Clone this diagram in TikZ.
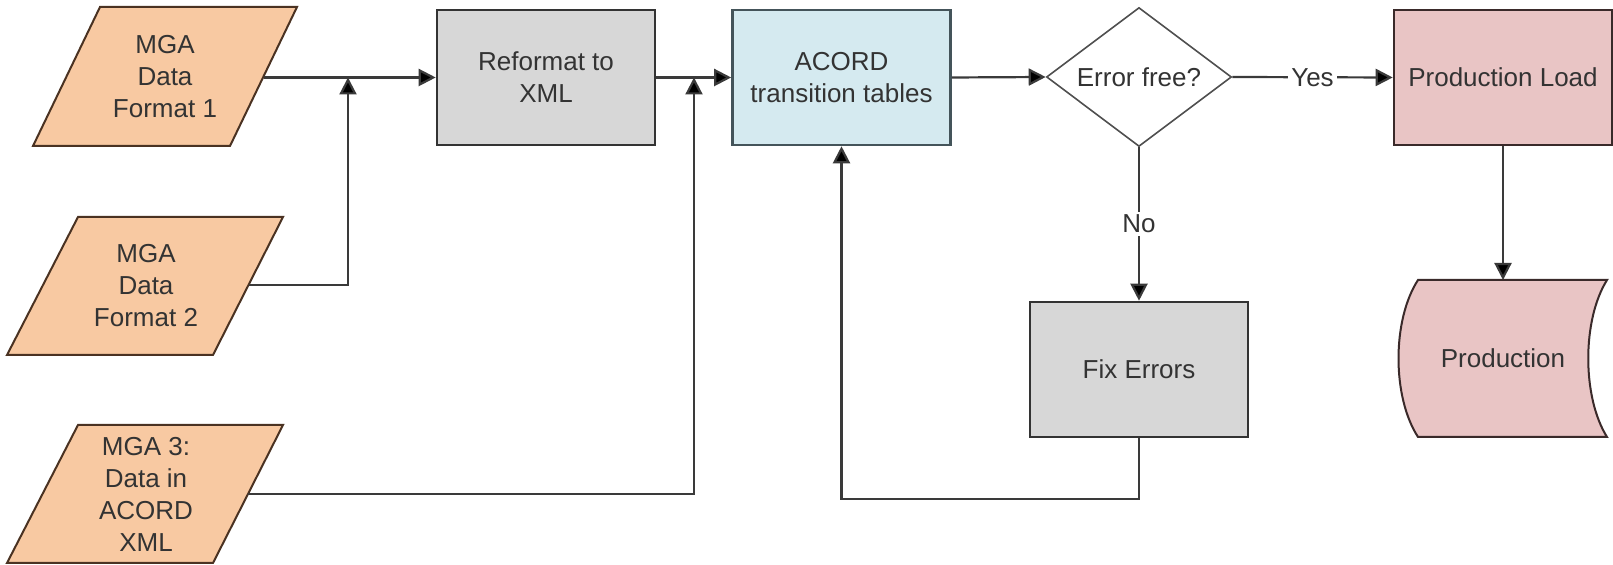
\documentclass[tikz,border=0pt]{standalone}
\usepackage{fontspec}
\setmainfont{Liberation Sans}
\usetikzlibrary{arrows.meta,shapes.geometric}
\definecolor{peach}{HTML}{F8C9A2}
\definecolor{parline}{HTML}{4A3222}
\definecolor{boxgray}{HTML}{D7D7D7}
\definecolor{boxline}{HTML}{333333}
\definecolor{acordblue}{HTML}{D5EAF0}
\definecolor{acordline}{HTML}{44545A}
\definecolor{pink}{HTML}{E9C5C5}
\definecolor{pinkline}{HTML}{3A2A2A}
\definecolor{linegray}{HTML}{3A3A3A}
\definecolor{diagray}{HTML}{505050}
\definecolor{textgray}{HTML}{333333}
\begin{document}
\begin{tikzpicture}[x=0.5pt,y=-0.5pt,
  txt/.style={font=\fontsize{13}{16}\selectfont, text=textgray, align=center},
  procbox/.style={draw=boxline, line width=1.3pt, minimum width=109pt, minimum height=67.5pt, inner sep=0pt, txt},
  para/.style={draw=parline, fill=peach, line width=1pt},
  arr/.style={draw=linegray, line width=1.1pt, -{Triangle[length=8.5pt,width=8.5pt,fill=black]}},
  lbl/.style={fill=white, inner sep=1.5pt, txt}]
\useasboundingbox (0,0) rectangle (1613,565);

% input parallelograms
\draw[para] (100,7) -- (297,7) -- (230,146) -- (33,146) -- cycle;
\node[txt] (p1) at (165,77) {MGA\\Data\\Format 1};
\coordinate (p1o) at (264,77.5);

\draw[para] (78,217) -- (283,217) -- (213,355) -- (7,355) -- cycle;
\node[txt] (p2) at (146,286) {MGA\\Data\\Format 2};
\coordinate (p2o) at (248.5,285);

\draw[para] (78,425) -- (283,425) -- (213,563) -- (7,563) -- cycle;
\node[txt] (p3) at (146,494) {MGA 3:\\Data in\\ACORD\\XML};
\coordinate (p3o) at (248,494);

% process boxes
\node[procbox, fill=boxgray] (ref) at (546,77.5) {Reformat to\\XML};
\node[procbox, fill=acordblue, draw=acordline] (acord) at (841.5,77.5) {ACORD\\transition tables};
\node[draw=diagray, line width=0.8pt, fill=white, diamond, aspect=1.33,
      minimum width=92.5pt, minimum height=69.5pt, inner sep=0pt, txt] (dia) at (1139,77) {Error free?};
\node[procbox, fill=pink, draw=pinkline] (pl) at (1503,77.5) {Production Load};
\node[procbox, fill=boxgray] (fix) at (1139,369.5) {Fix Errors};

% production (stored data)
\draw[draw=pinkline, fill=pink, line width=1pt]
  (1418,280) -- (1607,280) .. controls (1582,320) and (1582,397) .. (1607,437)
  -- (1418,437) .. controls (1392,397) and (1392,320) .. (1418,280) -- cycle;
\node[txt] (prod) at (1503,358) {Production};
\coordinate (prodtop) at (1503,280);

% junctions
\coordinate (j1) at (348,77.5);
\coordinate (j2) at (694,77.5);
\coordinate (fb) at (1139,499);

% connectors
\draw[arr] (p1o) -- (ref.west);
\draw[arr] (p2o) -| (j1);
\draw[arr] (ref.east) -- (acord.west);
\draw[arr] (p3o) -| (j2);
\draw[arr] (acord.east) -- (dia.west);
\draw[arr] (dia.east) -- node[lbl] {Yes} (pl.west);
\draw[arr] (dia.south) -- node[lbl] {No} (fix.north);
\draw[arr] (fix.south) -- (fb) -| (acord.south);
\draw[arr] (pl.south) -- (prodtop);
\end{tikzpicture}
\end{document}
